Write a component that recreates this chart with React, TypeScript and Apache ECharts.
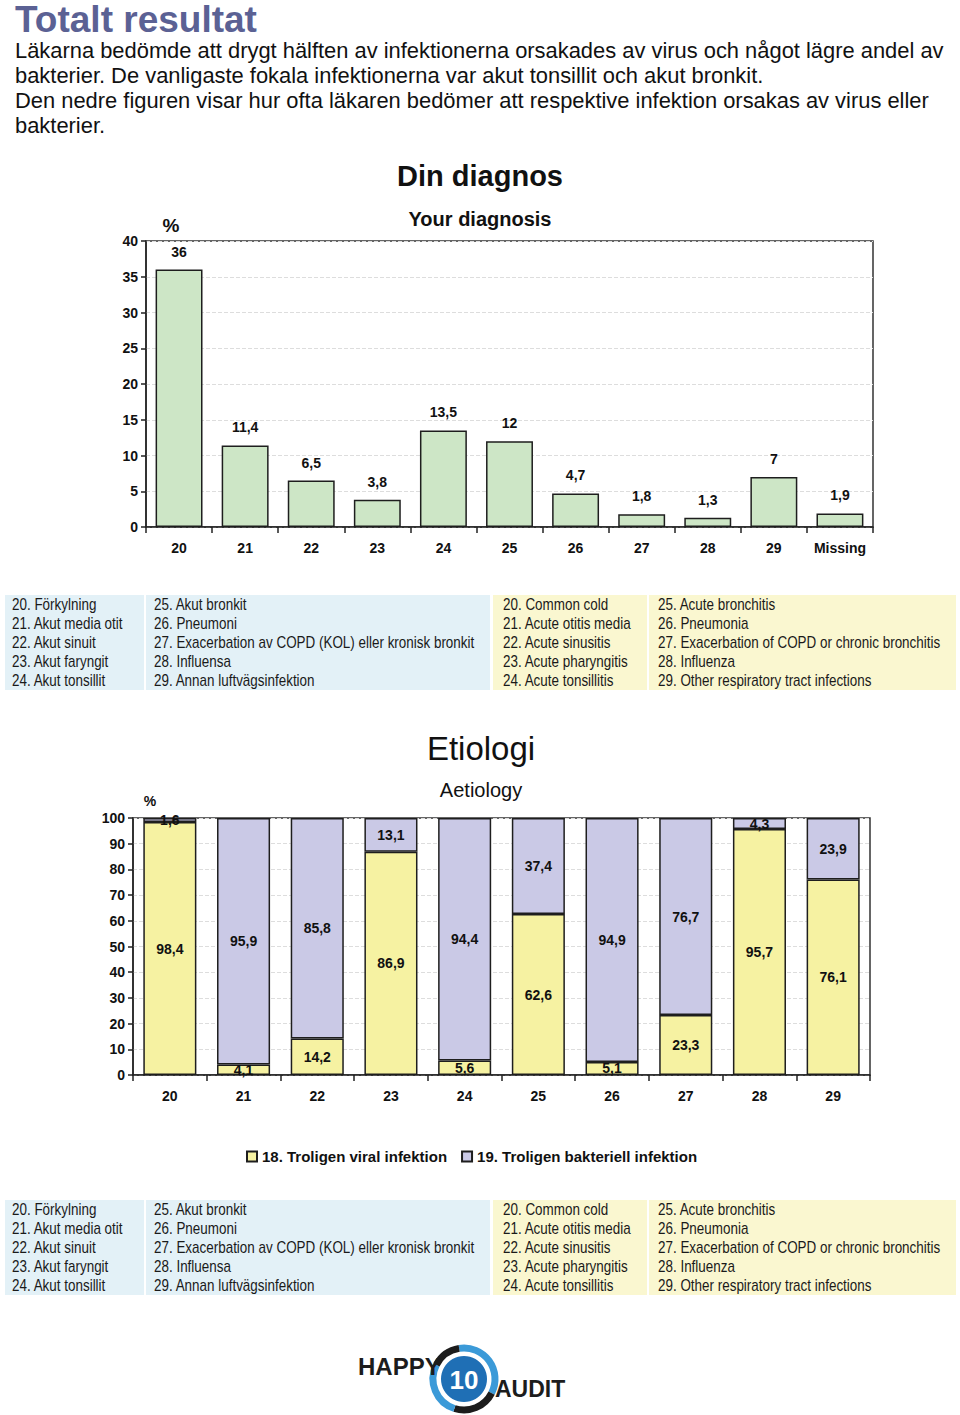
import React, { useEffect, useRef } from "react";
import * as echarts from "echarts";

const headerTitle = "Totalt resultat";
const headerLines = [
  "Läkarna bedömde att drygt hälften av infektionerna orsakades av virus och något lägre andel av",
  "bakterier. De vanligaste fokala infektionerna var akut tonsillit och akut bronkit.",
  "Den nedre figuren visar hur ofta läkaren bedömer att respektive infektion orsakas av virus eller",
  "bakterier.",
];

const diagCategories = ["20", "21", "22", "23", "24", "25", "26", "27", "28", "29", "Missing"];
const diagValues = [36, 11.4, 6.5, 3.8, 13.5, 12, 4.7, 1.8, 1.3, 7, 1.9];

const etioCategories = ["20", "21", "22", "23", "24", "25", "26", "27", "28", "29"];
const viralValues = [98.4, 4.1, 14.2, 86.9, 5.6, 62.6, 5.1, 23.3, 95.7, 76.1];
const bacterialValues = [1.6, 95.9, 85.8, 13.1, 94.4, 37.4, 94.9, 76.7, 4.3, 23.9];
const seriesNames = ["18. Troligen viral infektion", "19. Troligen bakteriell infektion"];

const svCol1 = ["20. Förkylning", "21. Akut media otit", "22. Akut sinuit", "23. Akut faryngit", "24. Akut tonsillit"];
const svCol2 = ["25. Akut bronkit", "26. Pneumoni", "27. Exacerbation av COPD (KOL) eller kronisk bronkit", "28. Influensa", "29. Annan luftvägsinfektion"];
const enCol1 = ["20. Common cold", "21. Acute otitis media", "22. Acute sinusitis", "23. Acute pharyngitis", "24. Acute tonsillitis"];
const enCol2 = ["25. Acute bronchitis", "26. Pneumonia", "27. Exacerbation of COPD or chronic bronchitis", "28. Influenza", "29. Other respiratory tract infections"];

const FONT = "'Liberation Sans', Arial, Helvetica, sans-serif";

const fmt = (v: number) => String(v).replace(".", ",");

function tableGraphics(top: number): any[] {
  const els: any[] = [];
  els.push({ type: "rect", shape: { x: 5, y: top, width: 485, height: 95 }, style: { fill: "#e3f1f7" } });
  els.push({ type: "rect", shape: { x: 493, y: top, width: 463, height: 95 }, style: { fill: "#faf7d0" } });
  els.push({ type: "rect", shape: { x: 144, y: top, width: 2, height: 95 }, style: { fill: "#ffffff" } });
  els.push({ type: "rect", shape: { x: 647, y: top, width: 2, height: 95 }, style: { fill: "#ffffff" } });
  const cols: [string[], number][] = [[svCol1, 12], [svCol2, 154], [enCol1, 503], [enCol2, 658]];
  cols.forEach(([arr, x]) => {
    arr.forEach((t, i) => {
      els.push({
        type: "text",
        x,
        y: top + 10 + i * 18.8,
        scaleX: 0.84,
        style: { text: t, fill: "#1a1a1a", font: `16px ${FONT}`, textAlign: "left", textVerticalAlign: "middle" },
      });
    });
  });
  return els;
}

function txt(text: string, x: number, y: number, font: string, align = "left", fill = "#111", lineHeight?: number) {
  const style: any = { text, fill, font, textAlign: align, textVerticalAlign: "middle" };
  if (lineHeight) style.lineHeight = lineHeight;
  return { type: "text", x, y, style };
}

export default function App() {
  const ref = useRef<HTMLDivElement>(null);
  useEffect(() => {
    if (!ref.current) return;
    const chart = echarts.init(ref.current, undefined, { renderer: "svg" });

    const graphics: any[] = [];
    graphics.push(txt(headerTitle, 15, 19, `bold 37px ${FONT}`, "left", "#5b6194", 37));
    headerLines.forEach((l, i) => graphics.push(txt(l, 15, 50 + i * 25.3, `21.9px ${FONT}`)));
    graphics.push(txt("Din diagnos", 480, 176, `bold 29px ${FONT}`, "center"));
    graphics.push(txt("Your diagnosis", 480, 219, `bold 20px ${FONT}`, "center"));
    graphics.push(txt("%", 171, 225, `bold 19px ${FONT}`, "center"));
    graphics.push(...tableGraphics(595));
    graphics.push(txt("Etiologi", 481, 748, `33px ${FONT}`, "center"));
    graphics.push(txt("Aetiology", 481, 790, `20px ${FONT}`, "center"));
    graphics.push(txt("%", 150, 801, `bold 14px ${FONT}`, "center"));
    graphics.push(...tableGraphics(1200));

    // logo
    const cx = 464, cy = 1379;
    graphics.push({ type: "arc", shape: { cx, cy, r: 31, startAngle: -Math.PI * 0.55, endAngle: Math.PI * 0.15, clockwise: true }, style: { stroke: "#3b9ad8", lineWidth: 7, fill: "none" } });
    graphics.push({ type: "arc", shape: { cx, cy, r: 31, startAngle: Math.PI * 0.15, endAngle: Math.PI * 0.6, clockwise: true }, style: { stroke: "#1c1c1c", lineWidth: 7, fill: "none" } });
    graphics.push({ type: "arc", shape: { cx, cy, r: 31, startAngle: Math.PI * 0.6, endAngle: Math.PI * 1.15, clockwise: true }, style: { stroke: "#3b9ad8", lineWidth: 7, fill: "none" } });
    graphics.push({ type: "arc", shape: { cx, cy, r: 31, startAngle: Math.PI * 1.15, endAngle: Math.PI * 1.45, clockwise: true }, style: { stroke: "#1c1c1c", lineWidth: 7, fill: "none" } });
    graphics.push({ type: "circle", shape: { cx, cy, r: 23 }, style: { fill: "#1f6fb5" } });
    graphics.push(txt("10", cx, cy + 1, `bold 26px ${FONT}`, "center", "#ffffff"));
    graphics.push(txt("HAPPY", 358, 1366, `bold 24px ${FONT}`, "left", "#1c1c1c"));
    graphics.push(txt("AUDIT", 495, 1389, `bold 23px ${FONT}`, "left", "#1c1c1c"));

    const axisLabel = { color: "#111", fontWeight: "bold", fontSize: 14, fontFamily: FONT };

    chart.setOption({
      animation: false,
      textStyle: { fontFamily: FONT },
      grid: [
        { left: 146, top: 241, width: 727, height: 286, show: true, borderColor: "#333", borderWidth: 1.5, backgroundColor: "transparent" },
        { left: 133, top: 818, width: 737, height: 257, show: true, borderColor: "#333", borderWidth: 1.5, backgroundColor: "transparent" },
      ],
      xAxis: [
        {
          type: "category", gridIndex: 0, data: diagCategories,
          axisLine: { lineStyle: { color: "#222", width: 1.5 } },
          axisTick: { show: true, length: 6, lineStyle: { color: "#222", width: 1.5 } },
          axisLabel: { ...axisLabel, margin: 14, interval: 0 },
        },
        {
          type: "category", gridIndex: 1, data: etioCategories,
          axisLine: { lineStyle: { color: "#222", width: 1.5 } },
          axisTick: { show: true, length: 6, lineStyle: { color: "#222", width: 1.5 } },
          axisLabel: { ...axisLabel, margin: 14, interval: 0 },
        },
      ],
      yAxis: [
        {
          type: "value", gridIndex: 0, min: 0, max: 40, interval: 5,
          axisLine: { show: true, lineStyle: { color: "#222", width: 1.5 } },
          axisTick: { show: true, length: 5, lineStyle: { color: "#222", width: 1.5 } },
          axisLabel: { ...axisLabel, margin: 8 },
          splitLine: { show: true, lineStyle: { color: "#dddddd", type: "dashed" } },
        },
        {
          type: "value", gridIndex: 1, min: 0, max: 100, interval: 10,
          axisLine: { show: true, lineStyle: { color: "#222", width: 1.5 } },
          axisTick: { show: true, length: 5, lineStyle: { color: "#222", width: 1.5 } },
          axisLabel: { ...axisLabel, margin: 8 },
          splitLine: { show: true, lineStyle: { color: "#dddddd", type: "dashed" } },
        },
      ],
      legend: {
        show: true,
        left: 241, top: 1144,
        itemWidth: 10, itemHeight: 10, itemGap: 14,
        icon: "rect",
        data: seriesNames,
        textStyle: { color: "#111", fontWeight: "bold", fontSize: 15, fontFamily: FONT },
      },
      series: [
        {
          type: "bar", name: "Din diagnos", xAxisIndex: 0, yAxisIndex: 0,
          data: diagValues, barCategoryGap: "29%",
          itemStyle: { color: "#cde6c6", borderColor: "#1e1e1e", borderWidth: 1.5 },
          label: { show: true, position: "top", distance: 11, color: "#111", fontWeight: "bold", fontSize: 14, fontFamily: FONT, formatter: (p: any) => fmt(p.value) },
        },
        {
          type: "bar", name: seriesNames[0], xAxisIndex: 1, yAxisIndex: 1, stack: "etio",
          data: viralValues, barCategoryGap: "28%",
          itemStyle: { color: "#f6f2a2", borderColor: "#1e1e1e", borderWidth: 1.5 },
          label: { show: true, position: "inside", color: "#111", fontWeight: "bold", fontSize: 14, fontFamily: FONT, formatter: (p: any) => fmt(p.value) },
        },
        {
          type: "bar", name: seriesNames[1], xAxisIndex: 1, yAxisIndex: 1, stack: "etio",
          data: bacterialValues, barCategoryGap: "28%",
          itemStyle: { color: "#cac9e6", borderColor: "#1e1e1e", borderWidth: 1.5 },
          label: { show: true, position: "inside", color: "#111", fontWeight: "bold", fontSize: 14, fontFamily: FONT, formatter: (p: any) => fmt(p.value) },
        },
      ],
      graphic: graphics,
    });
    return () => chart.dispose();
  }, []);
  return <div ref={ref} style={{ position: "absolute", left: 0, top: 0, width: 960, height: 1415 }} />;
}
